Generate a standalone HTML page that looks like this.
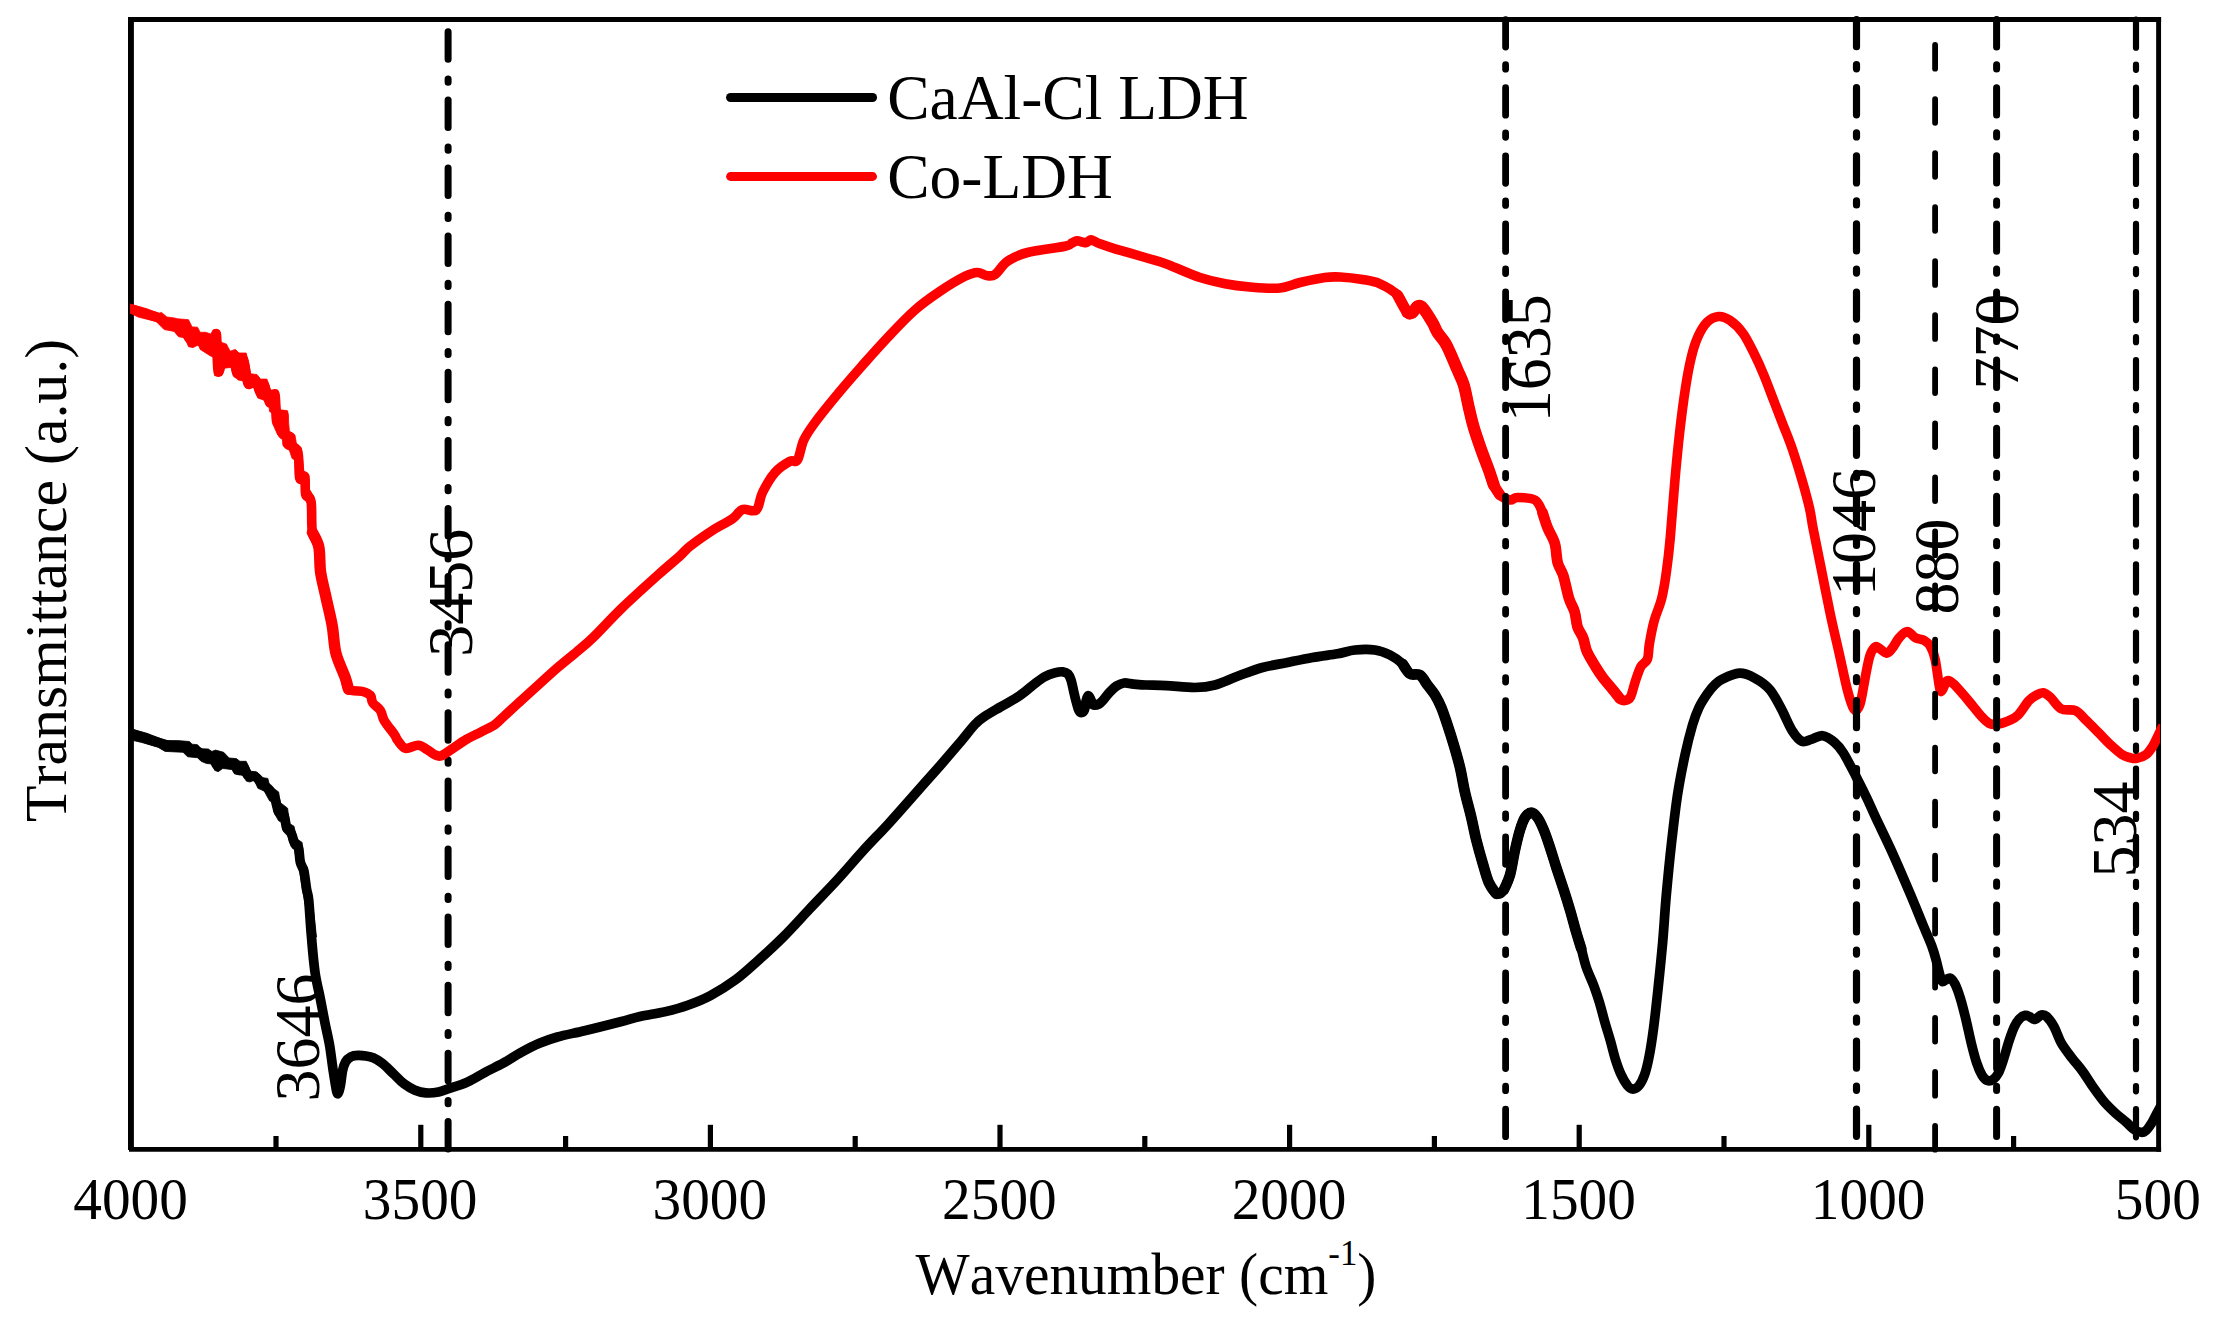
<!DOCTYPE html>
<html lang="en">
<head>
<meta charset="utf-8">
<title>FTIR spectra of CaAl-Cl LDH and Co-LDH</title>
<style>
html,body{margin:0;padding:0;background:#fff;}
body{width:2219px;height:1317px;overflow:hidden;}
svg{display:block;}
text{font-family:"Liberation Serif", "Times New Roman", serif;fill:#000;font-kerning:none;}
.tick{font-size:59.6px;text-anchor:middle;}
.peak{font-size:64px;}
.leg{font-size:64px;}
.axt{font-size:60px;}
.ayt{font-size:59.8px;}
</style>
</head>
<body>
<svg width="2219" height="1317" viewBox="0 0 2219 1317">
<rect x="0" y="0" width="2219" height="1317" fill="#ffffff"/>
<defs><clipPath id="plot"><rect x="129.9" y="17" width="2030.2" height="1135"/></clipPath></defs>

<g id="vlines-under">
<line x1="448.1" y1="31.8" x2="448.1" y2="1150" stroke="#000" fill="none" stroke-linecap="round" stroke-width="7" stroke-dasharray="27.5 19.7 3.2 17.7"/>
</g>
<g id="frame" stroke="#000" fill="none" stroke-linecap="butt">
<line x1="130.95" y1="17.1" x2="130.95" y2="1150" stroke-width="5.9"/>
<line x1="129" y1="1149.4" x2="2161.1" y2="1149.4" stroke-width="4.9"/>
<line x1="128" y1="19.5" x2="2161.1" y2="19.5" stroke-width="4.8"/>
<line x1="2158.6" y1="17.1" x2="2158.6" y2="1151.8" stroke-width="4.9"/>
</g>
<g id="curves" clip-path="url(#plot)" fill="none" stroke-linejoin="round" stroke-linecap="butt">
<path id="caal-cl-ldh" stroke="#000000" stroke-width="9.7" d="M126.0,731.7C126.8,732.0 127.3,732.1 130.8,733.3C134.3,734.5 141.9,737.1 147.0,738.8C152.1,740.5 157.0,742.0 161.5,743.3C166.0,744.6 170.5,746.0 174.1,746.5C177.7,747.0 180.4,745.7 183.1,746.5C185.8,747.3 187.9,750.6 190.3,751.4C192.7,752.2 195.1,750.5 197.5,751.4C199.9,752.3 202.3,755.9 204.7,756.8C207.1,757.7 209.8,755.3 211.9,756.8C214.0,758.3 216.0,765.6 217.3,765.8C218.7,765.9 218.2,758.0 220.0,757.7C221.8,757.4 225.6,762.8 228.2,764.0C230.8,765.2 233.6,763.9 235.4,764.9C237.2,765.9 237.7,770.0 239.0,770.3C240.3,770.6 242.0,765.8 243.5,766.7C245.0,767.6 246.1,774.1 248.0,775.7C249.9,777.4 252.8,775.2 255.2,776.6C257.6,778.0 260.0,781.5 262.4,783.8C264.8,786.0 267.5,787.5 269.6,790.1C271.7,792.7 273.5,795.5 275.0,799.1C276.5,802.7 277.1,809.1 278.6,811.8C280.1,814.5 282.6,812.7 284.0,815.4C285.4,818.1 285.5,825.0 286.7,828.0C287.9,831.0 289.9,830.7 291.3,833.4C292.7,836.1 293.7,841.8 294.9,844.2C296.1,846.6 297.6,844.8 298.5,847.8C299.4,850.8 299.4,858.3 300.3,862.2C301.2,866.1 302.8,866.7 303.9,871.2C304.9,875.7 305.8,884.5 306.6,889.3C307.4,894.1 307.9,892.2 308.7,900.0C309.5,907.8 310.3,924.0 311.4,936.0C312.4,948.0 313.5,961.6 315.0,972.1C316.5,982.6 318.8,990.7 320.4,999.1C322.0,1007.5 323.4,1015.1 324.9,1022.6C326.4,1030.1 328.0,1036.4 329.4,1044.2C330.8,1052.0 331.8,1061.6 333.0,1069.4C334.2,1077.2 335.7,1087.2 336.6,1091.1C337.5,1095.0 337.9,1093.6 338.5,1092.6C339.1,1091.6 339.8,1088.6 340.5,1085.0C341.2,1081.4 341.7,1074.8 342.5,1071.0C343.3,1067.2 344.1,1064.4 345.5,1062.0C346.9,1059.6 348.9,1057.9 351.0,1056.8C353.1,1055.7 355.5,1055.5 358.0,1055.4C360.5,1055.3 363.5,1055.6 366.0,1056.0C368.5,1056.4 370.2,1056.5 373.0,1057.7C375.8,1059.0 379.2,1060.8 382.6,1063.5C386.0,1066.2 389.8,1070.4 393.4,1073.8C397.0,1077.2 400.6,1081.2 404.2,1083.9C407.8,1086.6 411.4,1088.7 415.0,1090.2C418.6,1091.7 421.9,1092.6 425.8,1092.9C429.7,1093.2 434.6,1092.8 438.5,1092.0C442.4,1091.2 444.5,1090.1 449.3,1088.4C454.1,1086.8 461.3,1084.8 467.3,1082.1C473.3,1079.4 479.3,1075.4 485.3,1072.2C491.3,1069.0 497.4,1066.4 503.4,1063.1C509.4,1059.8 515.4,1055.6 521.4,1052.3C527.4,1049.0 533.4,1045.8 539.4,1043.3C545.4,1040.8 549.9,1039.1 557.4,1037.0C564.9,1034.9 574.0,1033.2 584.5,1030.7C595.0,1028.2 611.2,1024.1 620.5,1021.7C629.8,1019.3 632.5,1018.1 640.0,1016.4C647.5,1014.7 657.5,1013.5 665.5,1011.6C673.5,1009.7 680.3,1007.9 687.8,1005.2C695.2,1002.6 702.2,1000.0 710.2,995.7C718.2,991.5 727.7,985.6 735.7,979.7C743.7,973.9 750.0,967.8 758.0,960.6C766.0,953.4 775.0,945.2 783.5,936.7C792.0,928.2 800.1,919.1 809.1,909.5C818.1,899.9 828.8,889.0 837.8,879.2C846.8,869.4 854.8,859.8 863.3,850.5C871.8,841.2 880.3,832.7 888.8,823.4C897.3,814.1 905.8,804.3 914.3,794.7C922.8,785.1 932.3,774.5 939.8,766.0C947.2,757.5 953.1,750.6 959.0,743.7C964.9,736.8 970.6,729.0 974.9,724.5C979.1,720.0 980.2,719.5 984.5,716.6C988.8,713.7 994.5,710.5 1000.4,707.0C1006.2,703.5 1013.8,699.8 1019.6,695.8C1025.5,691.8 1031.2,686.3 1035.5,683.1C1039.8,679.9 1042.0,678.2 1045.2,676.5C1048.4,674.8 1051.8,673.7 1054.7,672.9C1057.7,672.1 1060.7,671.6 1062.9,671.8C1065.1,672.0 1066.6,672.6 1068.0,674.0C1069.4,675.4 1070.2,677.5 1071.1,680.3C1072.0,683.1 1072.8,687.4 1073.6,691.0C1074.4,694.6 1075.3,698.5 1076.2,701.7C1077.1,704.9 1077.8,708.2 1078.7,710.0C1079.6,711.8 1080.5,712.6 1081.5,712.6C1082.5,712.6 1083.6,712.0 1084.4,710.0C1085.2,708.0 1085.6,702.9 1086.2,700.5C1086.8,698.1 1087.3,695.9 1088.1,695.7C1088.8,695.5 1090.0,697.7 1090.7,699.2C1091.5,700.7 1091.2,703.8 1092.6,704.6C1094.0,705.4 1097.0,704.9 1098.9,704.0C1100.8,703.1 1102.0,701.3 1103.9,699.2C1105.8,697.1 1108.1,693.8 1110.2,691.6C1112.3,689.4 1114.2,687.4 1116.5,686.0C1118.8,684.6 1121.2,683.3 1124.1,683.0C1126.9,682.7 1129.9,683.8 1133.6,684.1C1137.3,684.4 1140.8,684.8 1146.2,685.0C1151.7,685.2 1158.2,685.2 1166.3,685.6C1174.4,686.0 1186.9,687.6 1195.0,687.5C1203.1,687.4 1207.9,686.9 1215.0,685.0C1222.1,683.1 1229.6,679.2 1237.5,676.3C1245.4,673.4 1254.2,669.8 1262.5,667.5C1270.8,665.2 1279.2,664.2 1287.5,662.5C1295.8,660.8 1304.2,659.0 1312.5,657.5C1320.8,656.0 1330.4,655.0 1337.5,653.8C1344.6,652.5 1348.8,650.6 1355.0,650.0C1361.2,649.4 1369.2,649.2 1375.0,650.0C1380.8,650.8 1385.4,652.7 1390.0,655.0C1394.6,657.3 1399.2,660.7 1402.5,663.8C1405.8,666.9 1407.1,671.9 1410.0,673.8C1412.9,675.7 1417.1,673.1 1420.0,675.0C1422.9,676.9 1425.0,681.7 1427.5,685.0C1430.0,688.3 1432.7,691.2 1435.0,695.0C1437.3,698.8 1439.2,702.5 1441.3,707.5C1443.4,712.5 1445.4,718.8 1447.5,725.0C1449.6,731.2 1451.7,737.9 1453.8,745.0C1455.9,752.1 1458.1,759.6 1460.0,767.5C1461.9,775.4 1463.1,784.2 1465.0,792.5C1466.9,800.8 1469.4,809.6 1471.3,817.5C1473.2,825.4 1474.4,832.5 1476.3,840.0C1478.2,847.5 1480.4,855.4 1482.5,862.5C1484.6,869.6 1486.5,877.3 1488.8,882.5C1491.1,887.7 1493.8,892.5 1496.3,893.8C1498.8,895.0 1501.5,893.1 1503.8,890.0C1506.1,886.9 1508.1,881.7 1510.0,875.0C1511.9,868.3 1513.3,857.5 1515.0,850.0C1516.7,842.5 1518.3,835.4 1520.0,830.0C1521.7,824.6 1523.1,820.4 1525.0,817.5C1526.9,814.6 1529.2,812.5 1531.3,812.5C1533.4,812.5 1535.4,814.6 1537.5,817.5C1539.6,820.4 1541.7,825.0 1543.8,830.0C1545.9,835.0 1547.9,841.2 1550.0,847.5C1552.1,853.8 1554.0,860.4 1556.3,867.5C1558.6,874.6 1561.5,882.9 1563.8,890.0C1566.1,897.1 1567.9,902.9 1570.0,910.0C1572.1,917.1 1574.4,926.0 1576.3,932.5C1578.2,939.0 1579.7,943.1 1581.3,948.8C1582.9,954.5 1583.9,960.2 1586.0,966.5C1588.1,972.8 1591.8,980.4 1594.1,986.4C1596.3,992.4 1597.7,996.6 1599.5,1002.6C1601.3,1008.6 1603.1,1016.1 1604.9,1022.4C1606.7,1028.7 1608.5,1034.1 1610.3,1040.4C1612.1,1046.7 1613.9,1054.6 1615.7,1060.3C1617.5,1066.0 1619.1,1070.5 1621.1,1074.7C1623.0,1078.9 1625.5,1083.1 1627.4,1085.5C1629.4,1087.9 1630.8,1089.1 1632.8,1089.1C1634.8,1089.1 1637.1,1087.9 1639.1,1085.5C1641.1,1083.1 1642.9,1079.5 1644.6,1074.7C1646.3,1069.9 1647.6,1064.5 1649.1,1056.7C1650.6,1048.9 1652.1,1039.2 1653.6,1027.8C1655.1,1016.4 1656.6,1002.3 1658.1,988.2C1659.6,974.1 1661.2,958.6 1662.6,943.1C1664.0,927.6 1664.8,911.4 1666.3,895.0C1667.8,878.6 1669.4,861.7 1671.3,845.0C1673.2,828.3 1675.2,810.0 1677.5,795.0C1679.8,780.0 1682.5,766.7 1685.0,755.0C1687.5,743.3 1690.2,732.9 1692.5,725.0C1694.8,717.1 1696.5,712.8 1699.0,707.5C1701.5,702.2 1704.9,697.2 1707.5,693.5C1710.1,689.8 1712.0,687.4 1714.5,685.0C1717.0,682.6 1718.2,681.2 1722.3,679.2C1726.4,677.2 1733.9,673.4 1739.3,673.2C1744.7,673.0 1749.5,675.2 1754.5,677.9C1759.5,680.6 1765.2,684.2 1769.6,689.3C1774.0,694.3 1777.2,701.3 1781.0,708.2C1784.8,715.1 1788.8,725.4 1792.3,730.9C1795.8,736.4 1798.6,739.9 1801.8,741.3C1805.0,742.7 1807.8,740.3 1811.3,739.4C1814.8,738.5 1818.8,735.2 1822.6,735.7C1826.4,736.2 1830.9,739.3 1834.4,742.2C1837.9,745.1 1839.8,747.3 1843.4,753.0C1847.0,758.7 1852.1,768.9 1856.0,776.4C1859.9,783.9 1863.5,791.1 1866.8,798.0C1870.1,804.9 1871.6,808.8 1875.8,817.8C1880.0,826.8 1886.3,839.4 1892.0,852.0C1897.7,864.6 1904.9,881.4 1910.0,893.4C1915.1,905.4 1919.0,915.3 1922.6,924.0C1926.2,932.7 1929.3,939.6 1931.6,945.6C1933.8,951.6 1934.8,955.2 1936.1,960.0C1937.4,964.8 1938.7,970.8 1939.7,974.4C1940.8,978.0 1940.8,981.0 1942.4,981.6C1944.1,982.2 1947.5,977.6 1949.6,978.0C1951.7,978.4 1953.2,980.6 1955.0,984.0C1956.8,987.4 1958.6,992.7 1960.4,998.5C1962.2,1004.3 1964.0,1011.6 1965.8,1019.0C1967.6,1026.4 1969.4,1035.5 1971.2,1042.8C1973.0,1050.1 1974.8,1057.2 1976.6,1062.6C1978.4,1068.0 1980.2,1072.2 1982.0,1075.2C1983.8,1078.2 1985.6,1079.8 1987.4,1080.6C1989.2,1081.3 1991.0,1080.9 1992.8,1079.7C1994.6,1078.5 1996.4,1076.9 1998.2,1073.4C2000.0,1070.0 2001.8,1064.4 2003.6,1059.0C2005.4,1053.6 2007.2,1046.4 2009.0,1041.0C2010.8,1035.6 2012.6,1030.3 2014.4,1026.6C2016.2,1022.8 2018.0,1020.4 2019.8,1018.5C2021.6,1016.6 2023.5,1015.7 2025.2,1015.4C2026.9,1015.1 2028.1,1016.0 2029.7,1016.7C2031.3,1017.4 2033.1,1019.7 2035.1,1019.4C2037.0,1019.1 2039.5,1015.3 2041.4,1014.9C2043.4,1014.5 2044.7,1014.8 2046.8,1016.7C2048.9,1018.7 2051.6,1022.2 2054.0,1026.6C2056.4,1030.9 2058.2,1037.5 2061.2,1042.8C2064.2,1048.0 2068.4,1053.3 2072.0,1058.1C2075.6,1062.9 2079.2,1066.6 2082.8,1071.6C2086.4,1076.5 2090.0,1082.7 2093.6,1087.8C2097.2,1092.9 2100.8,1098.0 2104.4,1102.2C2108.0,1106.4 2111.6,1109.7 2115.2,1113.0C2118.8,1116.3 2122.7,1119.2 2126.0,1122.0C2129.3,1124.8 2132.0,1128.4 2135.0,1130.1C2138.0,1131.8 2141.3,1133.0 2144.0,1131.9C2146.7,1130.9 2148.9,1127.1 2151.2,1123.8C2153.4,1120.5 2155.5,1115.7 2157.5,1112.1C2159.5,1108.5 2162.1,1103.7 2163.0,1102.0"/>
<polygon id="caal-noise" fill="#000000" stroke="#000000" stroke-width="0.8" points="128.1,728.1 130.8,728.8 147.0,733.3 158.8,737.9 166.0,740.6 177.7,740.6 189.4,741.5 192.1,744.2 197.5,744.7 201.1,748.7 208.3,749.0 211.9,751.4 215.5,750.1 223.7,752.3 229.1,758.0 236.3,758.6 239.9,761.3 246.2,761.3 250.7,771.2 257.0,772.1 261.5,777.5 267.8,778.4 269.6,785.6 278.6,791.9 280.4,802.7 287.6,808.2 289.4,823.5 294.0,826.2 296.7,838.8 302.1,842.4 303.9,862.2 307.5,867.6 309.3,885.7 313.8,912.7 316.5,937.0 308.4,937.0 305.7,907.3 302.1,887.5 299.4,869.4 296.7,862.2 294.0,846.9 289.4,842.4 287.6,833.4 283.1,830.7 282.2,822.6 278.6,820.8 274.1,812.7 273.2,801.8 269.6,800.9 264.2,791.0 257.9,788.3 254.3,780.2 249.8,782.0 246.2,781.1 244.4,775.7 234.5,773.9 231.8,769.4 222.7,768.5 218.2,771.7 214.6,770.3 212.8,764.0 206.5,763.5 201.1,761.3 197.5,757.7 187.6,756.8 183.1,752.3 165.1,751.4 157.9,747.2 141.6,742.4 130.8,740.0 128.1,739.3"/>
<path id="co-ldh" stroke="#ff0000" stroke-width="9.6" d="M126.0,307.2C126.8,307.5 127.3,307.6 130.8,308.8C134.3,310.0 142.2,312.6 147.0,314.2C151.8,315.8 156.4,316.5 159.7,318.2C163.0,319.9 163.3,322.6 166.9,324.2C170.5,325.8 177.4,325.2 181.3,327.8C185.2,330.4 187.9,338.1 190.3,339.5C192.7,340.9 193.9,335.4 195.7,335.9C197.5,336.3 199.3,341.4 201.1,342.2C202.9,342.9 204.6,339.2 206.5,340.4C208.4,341.6 211.2,350.4 212.8,349.4C214.5,348.3 215.5,330.4 216.4,334.1C217.3,337.9 216.8,368.9 218.2,371.9C219.5,374.9 222.8,353.9 224.5,352.1C226.2,350.3 226.5,360.5 228.2,361.1C229.9,361.7 233.0,353.6 234.5,355.7C236.0,357.8 235.7,373.1 237.2,373.7C238.7,374.3 241.7,357.6 243.5,359.3C245.3,361.0 246.1,380.2 248.0,383.6C249.9,387.1 253.1,378.3 255.2,380.0C257.3,381.7 259.1,392.8 260.6,393.6C262.1,394.4 262.7,383.1 264.2,384.6C265.7,386.1 267.8,401.0 269.6,402.6C271.4,404.2 273.8,391.2 275.0,394.5C276.2,397.8 275.3,418.9 276.8,422.4C278.3,425.8 283.1,413.4 284.0,415.2C284.9,417.0 281.1,429.6 282.2,433.2C283.2,436.8 289.4,435.0 290.3,436.8C291.2,438.6 286.4,441.6 287.6,444.0C288.8,446.4 295.6,445.5 297.6,451.2C299.6,456.9 298.5,474.1 299.7,478.3C300.9,482.5 303.8,473.8 304.8,476.5C305.8,479.2 304.6,490.3 305.7,494.5C306.8,498.7 310.0,495.4 311.1,501.7C312.2,508.0 311.1,524.9 312.4,532.4C313.7,539.9 317.4,540.3 318.8,546.9C320.2,553.5 319.4,563.7 320.6,572.1C321.8,580.5 324.1,588.3 326.0,597.3C327.9,606.3 330.7,616.9 332.3,626.2C333.9,635.5 333.8,644.8 335.9,653.2C338.0,661.6 342.8,670.7 344.9,676.7C347.0,682.7 345.5,686.8 348.5,689.3C351.5,691.8 359.1,690.5 362.7,691.5C366.3,692.5 368.6,693.4 370.3,695.3C372.0,697.2 371.1,700.4 372.8,702.9C374.5,705.4 378.5,707.5 380.4,710.5C382.3,713.5 381.9,716.6 384.2,720.6C386.5,724.6 392.0,731.0 394.3,734.4C396.6,737.8 396.1,738.5 398.0,740.8C399.9,743.1 402.2,747.6 405.6,748.3C409.0,749.0 414.6,745.0 418.2,745.2C421.8,745.4 424.4,748.0 427.1,749.6C429.8,751.2 432.3,753.6 434.6,754.6C436.9,755.6 438.2,756.7 440.9,755.9C443.6,755.1 446.8,752.3 451.0,749.6C455.2,746.9 461.2,742.4 466.2,739.5C471.2,736.6 476.2,734.5 481.0,732.0C485.8,729.5 490.9,727.3 494.7,724.7C498.5,722.1 499.2,720.7 503.8,716.5C508.4,712.3 515.9,705.2 522.0,699.7C528.1,694.2 534.1,688.8 540.2,683.3C546.3,677.8 552.3,672.1 558.4,666.9C564.5,661.6 570.9,656.7 576.7,651.8C582.5,646.9 585.5,644.9 593.1,637.5C600.7,630.1 611.6,618.0 622.5,607.5C633.4,597.0 648.9,583.1 658.5,574.5C668.1,565.9 674.8,560.6 680.0,555.9C685.2,551.2 684.2,550.8 690.0,546.3C695.8,541.8 707.9,533.4 715.0,528.8C722.1,524.2 727.9,522.0 732.5,518.8C737.1,515.6 738.5,511.0 742.5,509.5C746.5,508.0 753.0,512.8 756.3,510.0C759.6,507.2 759.4,498.8 762.5,492.5C765.6,486.2 770.4,477.7 775.0,472.5C779.6,467.3 786.2,463.4 790.0,461.3C793.8,459.2 795.2,463.6 797.5,460.0C799.8,456.4 800.9,446.2 803.8,440.0C806.7,433.8 809.0,430.6 815.0,422.5C821.0,414.4 831.7,401.3 840.0,391.3C848.3,381.3 856.7,371.9 865.0,362.5C873.3,353.1 881.7,343.8 890.0,335.0C898.3,326.2 906.7,317.3 915.0,310.0C923.3,302.7 931.7,296.9 940.0,291.3C948.3,285.7 958.8,279.4 965.0,276.3C971.2,273.2 974.0,272.6 977.5,272.5C981.0,272.4 983.4,275.2 986.3,275.5C989.2,275.8 991.5,276.9 995.0,274.5C998.5,272.1 1002.1,265.0 1007.5,261.3C1012.9,257.6 1017.9,255.0 1027.5,252.5C1037.1,250.0 1057.6,247.9 1065.0,246.3C1072.4,244.7 1070.0,243.9 1072.0,243.0C1074.0,242.1 1075.3,241.0 1077.0,240.8C1078.7,240.6 1080.5,241.7 1082.0,242.0C1083.5,242.3 1084.9,242.9 1086.0,242.8C1087.1,242.7 1087.7,241.7 1088.5,241.2C1089.3,240.7 1089.9,239.8 1091.0,239.9C1092.1,240.0 1093.5,240.8 1095.0,241.5C1096.5,242.2 1096.7,242.6 1100.0,243.8C1103.3,245.0 1108.3,246.8 1115.0,248.8C1121.7,250.8 1131.7,253.6 1140.0,256.0C1148.3,258.4 1159.2,261.6 1165.0,263.5C1170.8,265.4 1169.2,265.2 1175.0,267.5C1180.8,269.8 1191.7,274.8 1200.0,277.5C1208.3,280.2 1216.7,282.2 1225.0,283.8C1233.3,285.4 1240.8,286.3 1250.0,287.0C1259.2,287.7 1271.7,288.8 1280.0,288.0C1288.3,287.2 1292.5,284.2 1300.0,282.5C1307.5,280.8 1318.3,278.4 1325.0,277.5C1331.7,276.6 1333.8,276.7 1340.0,277.0C1346.2,277.3 1355.8,278.4 1362.5,279.5C1369.2,280.6 1374.2,281.2 1380.0,283.8C1385.8,286.4 1392.9,290.2 1397.5,295.0C1402.1,299.8 1405.0,309.6 1407.5,312.5C1410.0,315.4 1410.8,313.5 1412.5,312.5C1414.2,311.5 1415.8,307.1 1417.5,306.3C1419.2,305.5 1420.0,304.8 1422.5,307.5C1425.0,310.2 1430.0,318.3 1432.5,322.5C1435.0,326.7 1435.4,329.2 1437.5,332.5C1439.6,335.8 1442.9,339.2 1445.0,342.5C1447.1,345.8 1447.9,347.9 1450.0,352.5C1452.1,357.1 1455.2,364.6 1457.5,370.0C1459.8,375.4 1461.9,378.8 1463.8,385.0C1465.7,391.2 1467.1,400.4 1468.8,407.5C1470.5,414.6 1471.7,420.4 1473.8,427.5C1475.9,434.6 1478.8,442.9 1481.3,450.0C1483.8,457.1 1486.7,464.2 1488.8,470.0C1490.9,475.8 1491.9,480.8 1493.8,485.0C1495.7,489.2 1497.3,492.5 1500.0,495.0C1502.7,497.5 1507.1,499.6 1510.0,500.0C1512.9,500.4 1513.3,497.5 1517.5,497.5C1521.7,497.5 1530.8,497.5 1535.0,500.0C1539.2,502.5 1540.4,507.9 1542.5,512.5C1544.6,517.1 1545.5,522.3 1547.5,527.5C1549.5,532.7 1553.1,537.7 1554.8,543.5C1556.5,549.3 1556.2,557.1 1557.6,562.5C1559.0,567.9 1561.4,569.7 1563.3,575.7C1565.2,581.7 1567.1,592.4 1569.0,598.4C1570.9,604.4 1573.2,607.0 1574.6,611.7C1576.0,616.4 1576.1,622.4 1577.5,626.8C1578.9,631.2 1581.6,634.1 1583.2,638.2C1584.8,642.3 1584.9,646.7 1586.9,651.4C1589.0,656.1 1592.8,662.2 1595.5,666.6C1598.2,671.0 1600.2,674.1 1603.0,677.9C1605.8,681.7 1609.7,685.8 1612.5,689.3C1615.3,692.8 1618.0,696.9 1620.1,698.8C1622.1,700.7 1623.1,700.9 1624.8,700.6C1626.5,700.3 1628.8,700.0 1630.5,696.9C1632.2,693.8 1633.5,686.8 1635.2,681.7C1636.9,676.7 1638.9,670.4 1640.9,666.6C1643.0,662.8 1646.1,662.8 1647.5,659.0C1648.9,655.2 1648.3,650.2 1649.4,643.9C1650.5,637.6 1652.0,628.7 1654.1,621.1C1656.1,613.5 1659.7,606.6 1661.7,598.4C1663.8,590.2 1665.0,581.9 1666.4,571.9C1667.8,561.9 1668.8,553.9 1670.2,538.5C1671.6,523.1 1673.4,497.1 1675.0,479.3C1676.6,461.6 1678.0,447.1 1679.7,432.0C1681.4,416.9 1683.5,400.7 1685.4,388.4C1687.3,376.1 1689.0,366.6 1691.1,358.1C1693.1,349.6 1695.0,343.3 1697.7,337.3C1700.4,331.3 1703.6,325.7 1707.1,322.2C1710.6,318.7 1714.7,316.8 1718.5,316.5C1722.3,316.2 1725.8,317.5 1729.9,320.3C1734.0,323.1 1739.0,327.8 1743.1,333.5C1747.2,339.2 1751.0,347.4 1754.5,354.4C1758.0,361.3 1760.8,367.6 1763.9,375.2C1767.1,382.8 1770.2,391.6 1773.4,399.8C1776.6,408.0 1779.8,416.2 1782.9,424.4C1786.1,432.6 1789.2,439.9 1792.3,449.0C1795.4,458.1 1798.9,469.5 1801.8,479.3C1804.7,489.1 1807.5,499.5 1809.4,507.7C1811.3,515.9 1811.2,518.6 1813.1,528.4C1815.0,538.2 1817.8,552.1 1820.7,566.3C1823.6,580.5 1827.1,598.8 1830.2,613.6C1833.3,628.4 1836.8,642.6 1839.6,655.2C1842.4,667.8 1845.0,680.6 1847.2,689.3C1849.4,698.0 1851.4,703.8 1852.9,707.3C1854.5,710.8 1855.2,710.8 1856.5,710.0C1857.8,709.2 1859.0,708.2 1860.5,702.5C1862.0,696.8 1864.0,683.7 1865.5,676.0C1867.0,668.3 1868.2,661.2 1869.7,656.4C1871.2,651.6 1873.3,648.7 1874.8,647.2C1876.3,645.8 1876.5,646.7 1878.5,647.7C1880.5,648.7 1884.3,653.0 1886.6,653.1C1888.8,653.2 1889.9,651.2 1892.0,648.6C1894.1,646.0 1896.7,640.6 1899.2,637.8C1901.8,634.9 1904.6,631.5 1907.3,631.5C1910.0,631.5 1912.6,636.3 1915.4,637.8C1918.2,639.3 1921.9,639.0 1924.4,640.5C1927.0,642.0 1928.9,643.6 1930.7,646.8C1932.5,649.9 1933.7,652.5 1935.2,659.4C1936.7,666.3 1938.5,683.1 1939.7,688.2C1940.9,693.3 1941.2,691.2 1942.4,690.0C1943.6,688.8 1945.1,682.0 1946.9,681.0C1948.7,680.0 1950.4,681.3 1953.2,683.7C1956.0,686.1 1960.7,691.6 1964.0,695.4C1967.3,699.1 1970.0,702.6 1973.0,706.2C1976.0,709.8 1979.3,714.1 1982.0,717.0C1984.7,719.9 1986.7,722.1 1989.2,723.3C1991.8,724.5 1994.0,724.7 1997.3,724.2C2000.6,723.8 2005.5,722.1 2009.0,720.6C2012.5,719.1 2014.7,718.5 2018.0,715.2C2021.3,711.9 2025.8,704.1 2028.8,700.8C2031.8,697.5 2033.6,696.8 2036.0,695.4C2038.4,694.0 2040.8,692.4 2043.2,692.7C2045.6,693.0 2047.4,694.5 2050.4,697.2C2053.4,699.9 2057.0,706.6 2061.2,708.9C2065.4,711.1 2071.4,708.8 2075.6,710.7C2079.8,712.7 2082.5,716.9 2086.4,720.6C2090.3,724.4 2094.8,729.0 2099.0,733.2C2103.2,737.4 2107.7,742.2 2111.6,745.8C2115.5,749.4 2119.4,752.8 2122.4,754.8C2125.4,756.8 2127.2,756.9 2129.6,757.5C2132.0,758.1 2134.1,758.9 2136.8,758.4C2139.5,757.9 2143.1,756.9 2145.8,754.8C2148.5,752.7 2150.9,749.1 2153.0,745.8C2155.1,742.5 2156.7,738.3 2158.4,735.0C2160.1,731.7 2162.2,727.3 2163.0,725.8"/>
<path stroke="#000000" stroke-width="10.8" stroke-linecap="round" d="M1402.5,663.8C1403.8,665.5 1407.1,671.9 1410.0,673.8C1412.9,675.7 1417.1,673.1 1420.0,675.0C1422.9,676.9 1425.0,681.7 1427.5,685.0C1430.0,688.3 1432.7,691.2 1435.0,695.0C1437.3,698.8 1439.2,702.5 1441.3,707.5C1443.4,712.5 1445.4,718.8 1447.5,725.0C1449.6,731.2 1451.7,737.9 1453.8,745.0C1455.9,752.1 1458.1,759.6 1460.0,767.5C1461.9,775.4 1463.1,784.2 1465.0,792.5C1466.9,800.8 1469.4,809.6 1471.3,817.5C1473.2,825.4 1474.4,832.5 1476.3,840.0C1478.2,847.5 1480.4,855.4 1482.5,862.5C1484.6,869.6 1486.5,877.3 1488.8,882.5C1491.1,887.7 1495.0,891.9 1496.3,893.8"/>
<path stroke="#000000" stroke-width="10.6" stroke-linecap="round" d="M1503.8,890.0C1504.8,887.5 1508.1,881.7 1510.0,875.0C1511.9,868.3 1513.3,857.5 1515.0,850.0C1516.7,842.5 1518.3,835.4 1520.0,830.0C1521.7,824.6 1523.1,820.4 1525.0,817.5C1526.9,814.6 1529.2,812.5 1531.3,812.5C1533.4,812.5 1535.4,814.6 1537.5,817.5C1539.6,820.4 1541.7,825.0 1543.8,830.0C1545.9,835.0 1547.9,841.2 1550.0,847.5C1552.1,853.8 1554.0,860.4 1556.3,867.5C1558.6,874.6 1561.5,882.9 1563.8,890.0C1566.1,897.1 1567.9,902.9 1570.0,910.0C1572.1,917.1 1574.4,926.0 1576.3,932.5C1578.2,939.0 1580.5,946.1 1581.3,948.8"/>
<path stroke="#ff0000" stroke-width="12.0" stroke-linecap="round" d="M1407.5,312.5C1408.3,312.5 1410.8,313.5 1412.5,312.5C1414.2,311.5 1415.8,307.1 1417.5,306.3C1419.2,305.5 1420.0,304.8 1422.5,307.5C1425.0,310.2 1430.0,318.3 1432.5,322.5C1435.0,326.7 1435.4,329.2 1437.5,332.5C1439.6,335.8 1442.9,339.2 1445.0,342.5C1447.1,345.8 1447.9,347.9 1450.0,352.5C1452.1,357.1 1455.2,364.6 1457.5,370.0C1459.8,375.4 1461.9,378.8 1463.8,385.0C1465.7,391.2 1467.1,400.4 1468.8,407.5C1470.5,414.6 1471.7,420.4 1473.8,427.5C1475.9,434.6 1478.8,442.9 1481.3,450.0C1483.8,457.1 1486.7,464.2 1488.8,470.0C1490.9,475.8 1493.0,482.5 1493.8,485.0"/>
<path stroke="#ff0000" stroke-width="11.0" stroke-linecap="round" d="M1397.5,295.0C1399.2,297.9 1405.0,309.6 1407.5,312.5C1410.0,315.4 1410.8,313.5 1412.5,312.5C1414.2,311.5 1415.8,307.1 1417.5,306.3C1419.2,305.5 1420.0,304.8 1422.5,307.5C1425.0,310.2 1430.0,318.3 1432.5,322.5C1435.0,326.7 1435.4,329.2 1437.5,332.5C1439.6,335.8 1442.9,339.2 1445.0,342.5C1447.1,345.8 1447.9,347.9 1450.0,352.5C1452.1,357.1 1455.2,364.6 1457.5,370.0C1459.8,375.4 1461.9,378.8 1463.8,385.0C1465.7,391.2 1467.1,400.4 1468.8,407.5C1470.5,414.6 1471.7,420.4 1473.8,427.5C1475.9,434.6 1478.8,442.9 1481.3,450.0C1483.8,457.1 1486.7,464.2 1488.8,470.0C1490.9,475.8 1491.9,480.8 1493.8,485.0C1495.7,489.2 1499.0,493.3 1500.0,495.0"/>
<path stroke="#ff0000" stroke-width="10.8" stroke-linecap="round" d="M1542.5,512.5C1543.3,515.0 1545.5,522.3 1547.5,527.5C1549.5,532.7 1553.1,537.7 1554.8,543.5C1556.5,549.3 1556.2,557.1 1557.6,562.5C1559.0,567.9 1561.4,569.7 1563.3,575.7C1565.2,581.7 1567.1,592.4 1569.0,598.4C1570.9,604.4 1573.2,607.0 1574.6,611.7C1576.0,616.4 1576.1,622.4 1577.5,626.8C1578.9,631.2 1581.6,634.1 1583.2,638.2C1584.8,642.3 1584.9,646.7 1586.9,651.4C1589.0,656.1 1592.8,662.2 1595.5,666.6C1598.2,671.0 1600.2,674.1 1603.0,677.9C1605.8,681.7 1609.7,685.8 1612.5,689.3C1615.3,692.8 1618.8,697.2 1620.1,698.8"/>
<path stroke="#ff0000" stroke-width="11.4" stroke-linecap="round" d="M312.4,532.4C313.5,534.8 317.4,540.3 318.8,546.9C320.2,553.5 319.4,563.7 320.6,572.1C321.8,580.5 324.1,588.3 326.0,597.3C327.9,606.3 330.7,616.9 332.3,626.2C333.9,635.5 333.8,644.8 335.9,653.2C338.0,661.6 342.8,670.7 344.9,676.7C347.0,682.7 347.9,687.2 348.5,689.3"/>
<polygon id="co-noise" fill="#ff0000" stroke="#ff0000" stroke-width="0.8" points="128.1,303.6 130.8,304.3 147.0,308.8 158.8,313.3 161.5,312.4 166.9,317.0 174.1,317.9 177.7,318.8 188.5,319.7 192.1,326.9 197.5,327.2 200.2,332.3 205.6,332.3 211.0,334.1 213.7,329.6 219.1,330.5 220.9,342.2 226.4,344.0 230.0,351.2 235.4,349.4 239.0,353.0 246.2,353.0 250.7,373.7 257.0,374.6 260.6,379.1 266.9,379.1 270.5,390.0 277.7,390.0 280.4,409.8 287.6,410.7 289.4,431.4 294.9,435.0 296.7,444.9 301.2,447.6 303.9,471.1 307.5,473.8 309.3,489.1 313.8,496.3 315.6,517.0 308.4,517.0 307.5,503.5 303.0,496.3 301.2,484.6 296.7,480.1 295.8,460.3 292.1,458.5 288.5,447.6 283.1,445.8 282.2,438.6 277.7,435.0 274.1,426.9 273.2,413.4 269.6,411.6 268.7,404.4 263.3,399.9 257.9,398.1 253.4,386.4 246.2,388.2 243.5,380.9 238.1,380.0 232.7,373.7 230.9,367.4 223.7,368.3 221.8,375.5 214.6,375.5 213.7,357.5 210.1,355.7 200.2,349.4 198.4,344.9 193.0,347.6 188.5,346.7 184.9,337.7 178.6,336.8 174.1,331.4 164.2,329.6 156.1,321.5 138.0,317.0 130.8,313.3 128.1,312.6"/>
</g>
<g id="vlines-over">
<line x1="1505.6" y1="19.6" x2="1505.6" y2="1150" stroke="#000" fill="none" stroke-linecap="round" stroke-width="6.8" stroke-dasharray="27.5 17.6 4.5 18.5"/>
<line x1="1856.5" y1="19.6" x2="1856.5" y2="1150" stroke="#000" fill="none" stroke-linecap="round" stroke-width="7.2" stroke-dasharray="27.1 18.0 4.1 18.9"/>
<line x1="1996.6" y1="19.6" x2="1996.6" y2="1150" stroke="#000" fill="none" stroke-linecap="round" stroke-width="7.0" stroke-dasharray="27.3 17.8 4.3 18.7"/>
<line x1="2136.0" y1="19.6" x2="2136.0" y2="1150" stroke="#000" fill="none" stroke-linecap="round" stroke-width="6.2" stroke-dasharray="28.1 17.0 5.1 17.9"/>
<line x1="1935.1" y1="45" x2="1935.1" y2="1150.5" stroke="#000" fill="none" stroke-linecap="round" stroke-width="5.8" stroke-dasharray="23.7 30.35"/>
</g>
<g id="ticks" stroke="#000" stroke-width="5.2">
<line x1="276.0" y1="1149.4" x2="276.0" y2="1136"/>
<line x1="420.8" y1="1149.4" x2="420.8" y2="1124.8"/>
<line x1="565.6" y1="1149.4" x2="565.6" y2="1136"/>
<line x1="710.4" y1="1149.4" x2="710.4" y2="1124.8"/>
<line x1="855.2" y1="1149.4" x2="855.2" y2="1136"/>
<line x1="1000.0" y1="1149.4" x2="1000.0" y2="1124.8"/>
<line x1="1144.8" y1="1149.4" x2="1144.8" y2="1136"/>
<line x1="1289.6" y1="1149.4" x2="1289.6" y2="1124.8"/>
<line x1="1434.4" y1="1149.4" x2="1434.4" y2="1136"/>
<line x1="1579.2" y1="1149.4" x2="1579.2" y2="1124.8"/>
<line x1="1724.0" y1="1149.4" x2="1724.0" y2="1136"/>
<line x1="1868.8" y1="1149.4" x2="1868.8" y2="1124.8"/>
<line x1="2013.6" y1="1149.4" x2="2013.6" y2="1136"/>
</g>
<g id="ticklabels">
<text class="tick" transform="translate(130.6,1219.1) scale(0.962,1)">4000</text>
<text class="tick" transform="translate(420.2,1219.1) scale(0.962,1)">3500</text>
<text class="tick" transform="translate(709.8,1219.1) scale(0.962,1)">3000</text>
<text class="tick" transform="translate(999.4,1219.1) scale(0.962,1)">2500</text>
<text class="tick" transform="translate(1289.0,1219.1) scale(0.962,1)">2000</text>
<text class="tick" transform="translate(1578.6,1219.1) scale(0.962,1)">1500</text>
<text class="tick" transform="translate(1868.2,1219.1) scale(0.962,1)">1000</text>
<text class="tick" transform="translate(2157.8,1219.1) scale(0.962,1)">500</text>
</g>
<text class="axt" transform="translate(915.6,1294.4) scale(0.9566,1)" xml:space="preserve">Wavenumber (cm<tspan font-size="36.5" dy="-29.8">-1</tspan><tspan dy="29.8">)</tspan></text>
<text class="ayt" transform="translate(66.2,822) rotate(-90)">Transmittance (a.u.)</text>
<text class="peak" transform="translate(319.0,1101.5) rotate(-90)">3646</text>
<text class="peak" transform="translate(472.0,656.7) rotate(-90)">3456</text>
<text class="peak" transform="translate(1550.2,422.2) rotate(-90)">1635</text>
<text class="peak" transform="translate(1875.1,596.1) rotate(-90)">1046</text>
<text class="peak" transform="translate(1958.0,614.4) rotate(-90)">880</text>
<text class="peak" transform="translate(2017.8,389.5) rotate(-90)">770</text>
<text class="peak" transform="translate(2136.2,877.6) rotate(-90)">534</text>
<g id="legend">
<line x1="730.5" y1="97.5" x2="872.6" y2="97.5" stroke="#000" stroke-width="8.9" stroke-linecap="round"/>
<line x1="730.5" y1="176.5" x2="872.6" y2="176.5" stroke="#ff0000" stroke-width="8.8" stroke-linecap="round"/>
<text class="leg" transform="translate(887.2,119.1) scale(0.992,1)">CaAl-Cl LDH</text>
<text class="leg" transform="translate(887.2,197.9) scale(0.992,1)">Co-LDH</text>
</g>
</svg>
</body>
</html>
